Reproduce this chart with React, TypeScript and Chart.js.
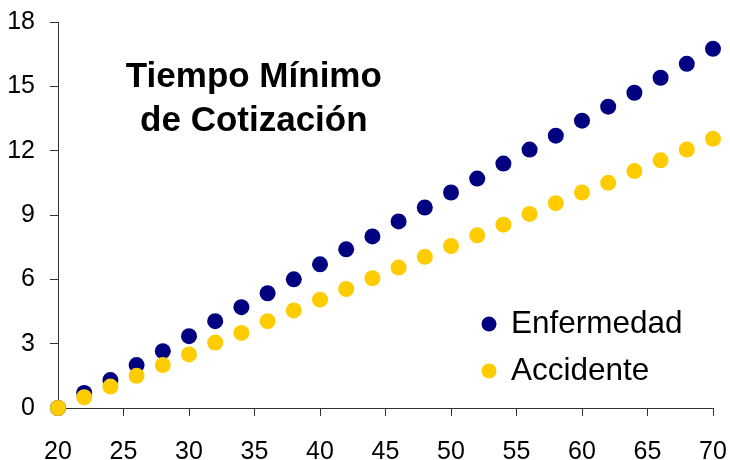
import React, { useEffect, useRef } from "react";
import { Chart, registerables } from "chart.js";

Chart.register(...registerables);

const ages = [20, 22, 24, 26, 28, 30, 32, 34, 36, 38, 40, 42, 44, 46, 48, 50, 52, 54, 56, 58, 60, 62, 64, 66, 68, 70];
const enfermedad = [0, 0.7, 1.3, 2.0, 2.65, 3.35, 4.05, 4.7, 5.35, 6.0, 6.7, 7.4, 8.0, 8.7, 9.35, 10.05, 10.7, 11.4, 12.05, 12.7, 13.4, 14.05, 14.7, 15.4, 16.05, 16.75];
const accidente = [0, 0.5, 1.0, 1.5, 2.0, 2.5, 3.05, 3.5, 4.05, 4.55, 5.05, 5.55, 6.05, 6.55, 7.05, 7.55, 8.05, 8.55, 9.05, 9.55, 10.05, 10.5, 11.05, 11.55, 12.05, 12.55];
const seriesNames = ["Enfermedad", "Accidente"];
const seriesColors = ["#000080", "#FFCC00"];
const titleLines = ["Tiempo Mínimo", "de Cotización"];
const FONT = "'Liberation Sans', Arial, sans-serif";

const overlayPlugin = {
  id: "overlay",
  afterDatasetsDraw(chart: any) {
    const ctx = chart.ctx;
    const xs = chart.scales.x;
    const ys = chart.scales.y;
    ctx.save();
    // title
    ctx.fillStyle = "#000";
    ctx.textAlign = "center";
    ctx.textBaseline = "alphabetic";
    ctx.font = `bold 35px ${FONT}`;
    const tx = xs.getPixelForValue(34.95);
    ctx.fillText(titleLines[0], tx, ys.getPixelForValue(14.97));
    ctx.fillText(titleLines[1], tx, ys.getPixelForValue(12.92));
    // legend
    ctx.textAlign = "left";
    ctx.font = `31.5px ${FONT}`;
    const lx = xs.getPixelForValue(52.9);
    const rows = [ys.getPixelForValue(3.92), ys.getPixelForValue(1.73)];
    seriesNames.forEach((name, i) => {
      const cy = rows[i];
      ctx.beginPath();
      ctx.fillStyle = seriesColors[i];
      ctx.arc(lx, cy, 7.5, 0, Math.PI * 2);
      ctx.fill();
      ctx.fillStyle = "#000";
      ctx.textBaseline = "middle";
      ctx.fillText(name, lx + 22, cy);
    });
    ctx.restore();
  },
};

const clearPad = (s: any) => {
  s.paddingTop = 0;
  s.paddingBottom = 0;
  s.paddingLeft = 0;
  s.paddingRight = 0;
};

export default function App() {
  const ref = useRef<HTMLCanvasElement>(null);
  useEffect(() => {
    if (!ref.current) return;
    const mk = (vals: number[]) => ages.map((a, i) => ({ x: a, y: vals[i] }));
    const chart = new Chart(ref.current, {
      type: "scatter",
      data: {
        datasets: [
          {
            label: seriesNames[0],
            data: mk(enfermedad),
            backgroundColor: seriesColors[0],
            borderColor: seriesColors[0],
            pointRadius: 8,
            borderWidth: 0,
            order: 1,
            clip: false as any,
          },
          {
            label: seriesNames[1],
            data: mk(accidente),
            backgroundColor: seriesColors[1],
            borderColor: seriesColors[1],
            pointRadius: 8,
            borderWidth: 0,
            order: 0,
            clip: false as any,
          },
        ],
      },
      options: {
        animation: false,
        responsive: false,
        devicePixelRatio: 1,
        layout: { padding: { left: 0, top: 22, right: 17, bottom: 0 } },
        plugins: { legend: { display: false }, tooltip: { enabled: false }, title: { display: false } },
        scales: {
          x: {
            type: "linear",
            min: 20,
            max: 70,
            ticks: { stepSize: 5, color: "#000", font: { family: FONT, size: 25 }, padding: 21 },
            grid: { drawOnChartArea: false, drawTicks: true, tickLength: 8, color: "#333" },
            border: { display: true, color: "#333", width: 1 },
            afterFit: (s: any) => { s.height = 52; clearPad(s); },
          },
          y: {
            type: "linear",
            min: 0,
            max: 18,
            ticks: { stepSize: 3, color: "#000", font: { family: FONT, size: 25 }, padding: 15 },
            grid: { drawOnChartArea: false, drawTicks: true, tickLength: 8, color: "#333" },
            border: { display: true, color: "#333", width: 1 },
            afterFit: (s: any) => { s.width = 58; clearPad(s); },
          },
        },
      },
      plugins: [overlayPlugin],
    });
    return () => chart.destroy();
  }, []);
  return (
    <div style={{ position: "fixed", left: 0, top: 0, width: 730, height: 460, background: "#fff" }}>
      <canvas ref={ref} width={730} height={460} style={{ width: 730, height: 460, display: "block" }} />
    </div>
  );
}
